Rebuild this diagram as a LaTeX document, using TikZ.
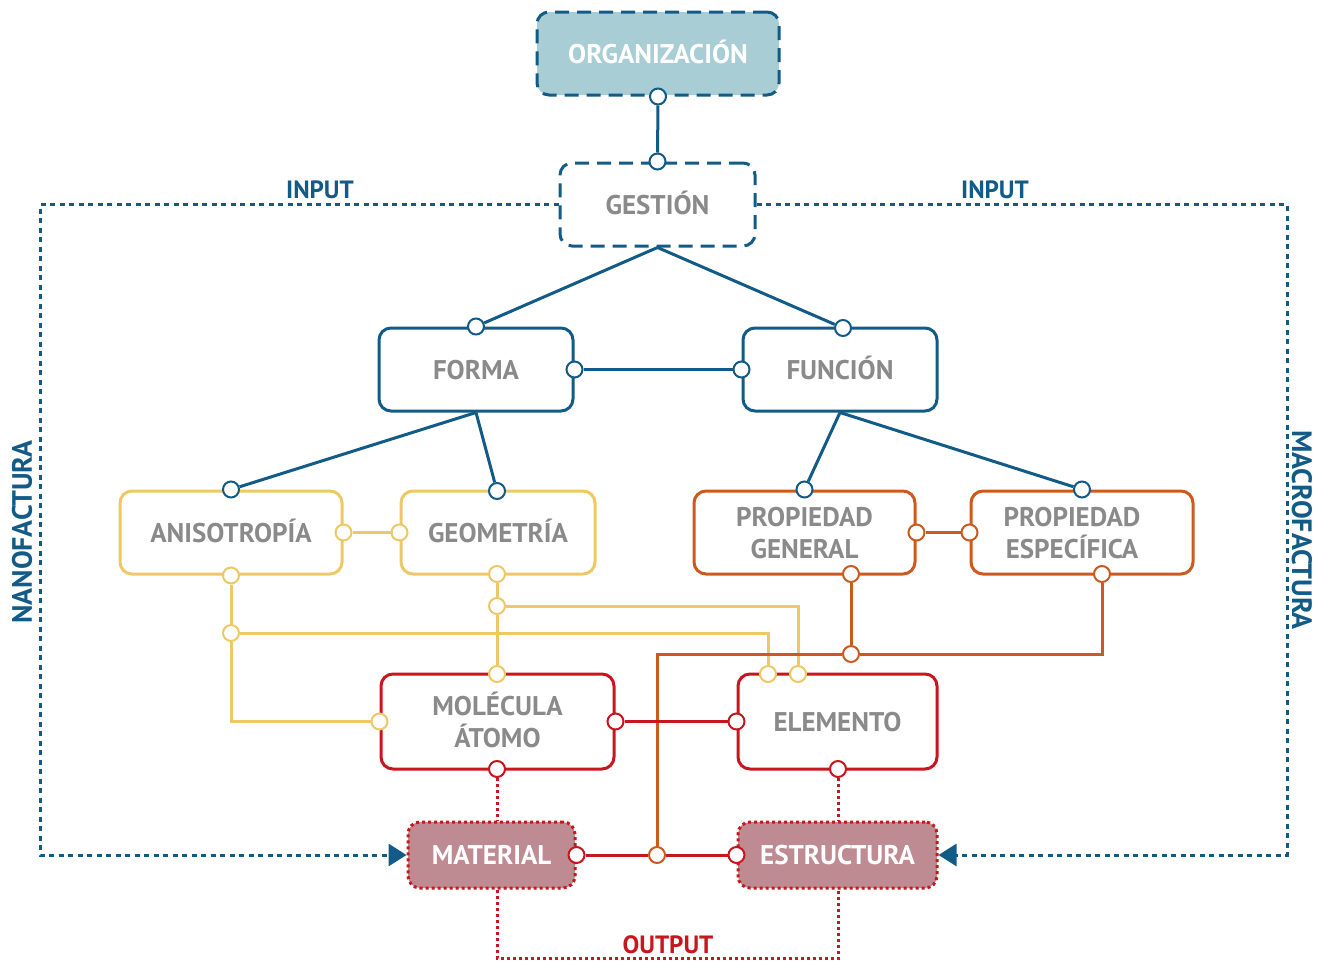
\documentclass[tikz,border=0pt]{standalone}
\usepackage{fontspec}
\setmainfont{PT Sans}
\usetikzlibrary{arrows.meta,backgrounds}
\definecolor{cblue}{HTML}{135B87}
\definecolor{cteal}{HTML}{A8CDD4}
\definecolor{cyellow}{HTML}{EEC867}
\definecolor{corange}{HTML}{CC5A1E}
\definecolor{cred}{HTML}{C8161F}
\definecolor{cpink}{HTML}{BF8B93}
\definecolor{ctext}{HTML}{8A8A8A}
\begin{document}
\begin{tikzpicture}[x=1pt,y=-1pt,
  box/.style={draw=#1, line width=3pt, rounded corners=12pt, fill=white,
    align=center, text=ctext, font=\fontsize{27}{32}\selectfont\bfseries, inner sep=0pt,
    text height=19pt, text depth=0pt},
  twolines/.style={text height=51pt, text depth=0pt},
  port/.style={circle, draw=#1, fill=white, line width=2pt, minimum size=16pt, inner sep=0pt},
  link/.style={draw=#1, line width=3pt},
  dashbox/.style={box=cblue, dash pattern=on 14pt off 8pt},
  dotbox/.style={box=cred, fill=cpink, text=white, dash pattern=on 3pt off 3pt},
  inputline/.style={draw=cblue, line width=3pt, dash pattern=on 5pt off 4.5pt},
  outputline/.style={draw=cred, line width=3pt, dash pattern=on 3pt off 3pt},
  tag/.style={font=\fontsize{25}{30}\selectfont\bfseries, inner sep=0pt},
  sidetag/.style={font=\fontsize{28}{30}\selectfont\bfseries, text=cblue, inner sep=0pt}
]
\useasboundingbox (0,0) rectangle (1326,961);

% boxes
\node[dashbox, fill=cteal, text=white, minimum width=242pt, minimum height=83pt] (org) at (658,53.5) {ORGANIZACIÓN};
\node[dashbox, minimum width=195pt, minimum height=83pt] (gest) at (657.5,204.5) {GESTIÓN};
\node[box=cblue, minimum width=194pt, minimum height=83pt] (forma) at (476,369.5) {FORMA};
\node[box=cblue, minimum width=194pt, minimum height=83pt] (func) at (840,369.5) {FUNCIÓN};
\node[box=cyellow, minimum width=222pt, minimum height=83pt] (anis) at (231,532.5) {ANISOTROPÍA};
\node[box=cyellow, minimum width=194pt, minimum height=83pt] (geom) at (498,532.5) {GEOMETRÍA};
\node[box=corange, twolines, minimum width=221pt, minimum height=83pt] (pg) at (804.5,532.5) {PROPIEDAD\\GENERAL};
\node[box=corange, twolines, minimum width=222pt, minimum height=83pt] (pe) at (1082,532.5) {\hspace*{-20pt}PROPIEDAD\\\hspace*{-20pt}ESPECÍFICA};
\node[box=cred, twolines, minimum width=233pt, minimum height=95pt] (mole) at (497.5,721.5) {MOLÉCULA\\ÁTOMO};
\node[box=cred, minimum width=199pt, minimum height=95pt] (elem) at (837.5,721.5) {ELEMENTO};
\node[dotbox, minimum width=167pt, minimum height=66pt] (mat) at (491.5,855) {MATERIAL};
\node[dotbox, minimum width=199pt, minimum height=66pt] (est) at (837.5,855) {ESTRUCTURA};

% ports
\node[port=cblue] (org-b) at (org.south) {};
\node[port=cblue] (gest-t) at (gest.north) {};
\node[port=cblue] (forma-t) at (forma.north) {};
\node[port=cblue] (forma-r) at (forma.east) {};
\node[port=cblue] (func-t) at (843,328) {};
\node[port=cblue] (func-l) at (func.west) {};
\node[port=cblue] (anis-t) at (anis.north) {};
\node[port=cyellow] (anis-r) at (anis.east) {};
\node[port=cyellow] (anis-b) at (anis.south) {};
\node[port=cblue] (geom-t) at (497,491) {};
\node[port=cyellow] (geom-l) at (geom.west) {};
\node[port=cyellow] (geom-b) at (497,574) {};
\node[port=cblue] (pg-t) at (pg.north) {};
\node[port=corange] (pg-r) at (pg.east) {};
\node[port=corange] (pg-b) at (851,574) {};
\node[port=cblue] (pe-t) at (pe.north) {};
\node[port=corange] (pe-l) at (pe.west) {};
\node[port=corange] (pe-b) at (1102,574) {};
\node[port=cyellow] (ya) at (231,633) {};
\node[port=cyellow] (yb) at (497,606) {};
\node[port=corange] (oa) at (851,654) {};
\node[port=cyellow] (mole-t) at (497,674) {};
\node[port=cyellow] (mole-l) at (mole.west) {};
\node[port=cred] (mole-r) at (mole.east) {};
\node[port=cred] (mole-b) at (497,769) {};
\node[port=cyellow] (elem-y1) at (768,674) {};
\node[port=cyellow] (elem-y2) at (798,674) {};
\node[port=cred] (elem-l) at (elem.west) {};
\node[port=cred] (elem-b) at (838,769) {};
\node[port=cred] (mat-r) at (mat.east) {};
\node[port=cred] (est-l) at (est.west) {};
\node[port=corange] (mid) at (657,855) {};

% free corners of the input / output loops
\coordinate (inl1) at (40,204.5);
\coordinate (inl2) at (40,855);
\coordinate (inr1) at (1287,204.5);
\coordinate (inr2) at (1287,855);
\coordinate (out1) at (497,958);
\coordinate (out2) at (838,958);

\begin{scope}[on background layer]
  % hierarchy
  \draw[link=cblue] (org-b) -- (gest-t);
  \draw[link=cblue] (gest.south) -- (forma-t);
  \draw[link=cblue] (gest.south) -- (func-t);
  \draw[link=cblue] (forma-r) -- (func-l);
  \draw[link=cblue] (forma.south) -- (anis-t);
  \draw[link=cblue] (forma.south) -- (geom-t);
  \draw[link=cblue] (func.south) -- (pg-t);
  \draw[link=cblue] (func.south) -- (pe-t);
  % form branch
  \draw[link=cyellow] (anis-r) -- (geom-l);
  \draw[link=cyellow] (anis-b) -- (ya);
  \draw[link=cyellow] (ya) |- (mole-l);
  \draw[link=cyellow] (ya) -| (elem-y1);
  \draw[link=cyellow] (geom-b) -- (yb);
  \draw[link=cyellow] (yb) -- (mole-t);
  \draw[link=cyellow] (yb) -| (elem-y2);
  % function branch
  \draw[link=corange] (pg-r) -- (pe-l);
  \draw[link=corange] (pg-b) -- (oa);
  \draw[link=corange] (pe-b) |- (oa);
  \draw[link=corange] (oa) -| (mid);
  % matter
  \draw[link=cred] (mole-r) -- (elem-l);
  \draw[link=cred] (mat-r) -- (mid);
  \draw[link=cred] (mid) -- (est-l);
  \draw[outputline] (mole-b) -- (mole-b |- mat.north);
  \draw[outputline] (elem-b) -- (elem-b |- est.north);
  \draw[outputline] (out1 |- mat.south) -- (out1) -- (out2) -- (out2 |- est.south);
  % inputs
  \draw[inputline, -{Triangle[length=18pt,width=22pt,fill=cblue]}] (gest.west) -- (inl1) -- (inl2) -- (mat.west);
  \draw[inputline, -{Triangle[length=18pt,width=22pt,fill=cblue]}] (gest.east) -- (inr1) -- (inr2) -- (est.east);
\end{scope}

% labels
\node[tag, text=cblue] (in1) at (320,190) {INPUT};
\node[tag, text=cblue] (in2) at (995,190) {INPUT};
\node[tag, text=cred] (outl) at (668,945) {OUTPUT};
\node[sidetag, rotate=90] (nano) at (22,532) {NANOFACTURA};
\node[sidetag, rotate=-90] (macro) at (1302,530) {MACROFACTURA};
\end{tikzpicture}
\end{document}
